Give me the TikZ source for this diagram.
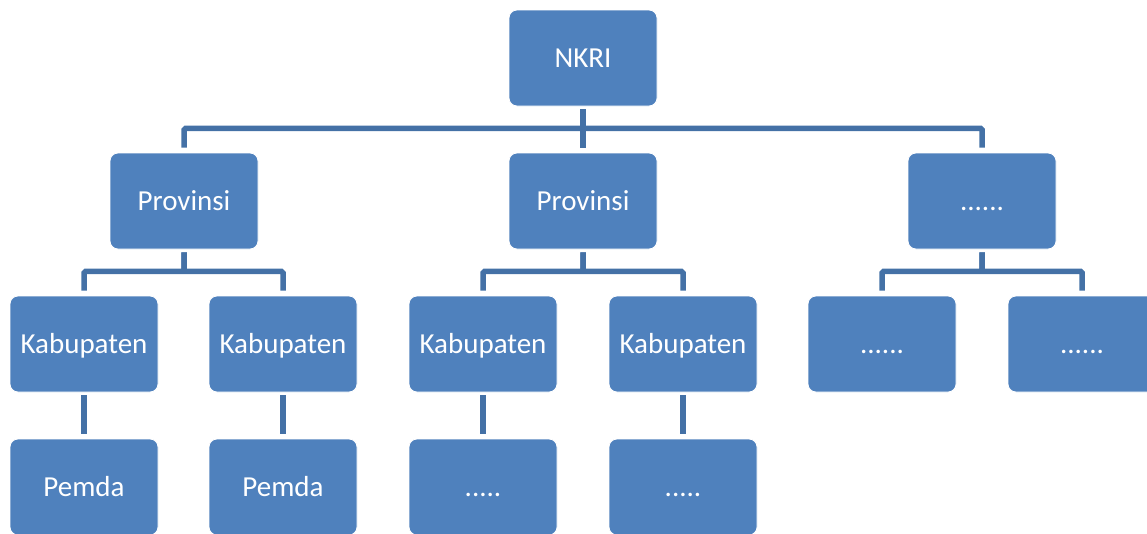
\documentclass[tikz,border=0pt]{standalone}
\usepackage{fontspec}
\setmainfont{Carlito}
\usetikzlibrary{calc}
\definecolor{boxblue}{HTML}{4F81BD}
\definecolor{linkblue}{HTML}{4471A6}
\tikzset{
  orgbox/.style={fill=boxblue, draw=white, line width=0.8pt, rounded corners=8pt,
    minimum width=148pt, minimum height=96pt, inner sep=0pt, text=white,
    text height=18pt, text depth=0pt,
    font=\fontsize{29}{31}\selectfont},
  conn/.style={draw=linkblue, line width=5.5pt, shorten <=3pt, shorten >=5pt, rounded corners=1.5pt}
}
\begin{document}
\begin{tikzpicture}[x=1pt,y=-1pt]
\useasboundingbox (0,0) rectangle (1147,533);
\node[orgbox] (nkri) at (583,58) {NKRI};
\node[orgbox] (p1) at (184,201) {Provinsi};
\node[orgbox] (p2) at (583,201) {Provinsi};
\node[orgbox] (p3) at (982,201) {......};
\node[orgbox] (k1) at (84,344) {Kabupaten};
\node[orgbox] (k2) at (283,344) {Kabupaten};
\node[orgbox] (k3) at (483,344) {Kabupaten};
\node[orgbox] (k4) at (683,344) {Kabupaten};
\node[orgbox] (k5) at (882,344) {......};
\node[orgbox] (k6) at (1082,344) {......};
\node[orgbox] (d1) at (84,487) {Pemda};
\node[orgbox] (d2) at (283,487) {Pemda};
\node[orgbox] (d3) at (483,487) {.....};
\node[orgbox] (d4) at (683,487) {.....};
\foreach \a/\b in {nkri/p1,nkri/p2,nkri/p3,p1/k1,p1/k2,p2/k3,p2/k4,p3/k5,p3/k6}{
  \draw[conn] (\a.south) -- ++(0,22) -| (\b.north);
}
\foreach \a/\b in {k1/d1,k2/d2,k3/d3,k4/d4}{
  \draw[conn] (\a.south) -- (\b.north);
}
\end{tikzpicture}
\end{document}
